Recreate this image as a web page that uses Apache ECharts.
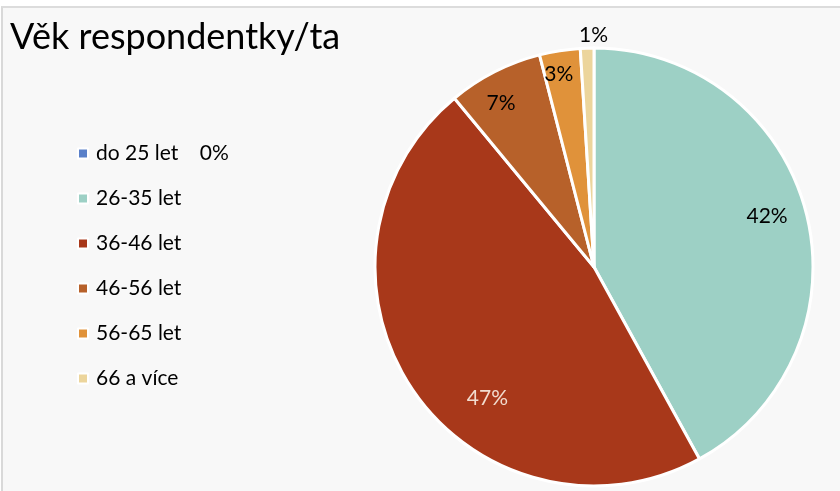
<!DOCTYPE html>
<html>
<head>
<meta charset="utf-8">
<script src="https://cdn.jsdelivr.net/npm/echarts@6/dist/echarts.min.js"></script>
<style>
  html, body { margin: 0; padding: 0; background: #ffffff; }
  #frame {
    position: absolute; left: 1px; top: 6px; width: 839px; height: 485px;
    background: #f8f8f8; border-left: 2px solid #d9d9d9; border-top: 2px solid #dcdcdc;
    box-sizing: border-box;
  }
  #main { position: absolute; left: 0; top: 0; width: 840px; height: 491px; }
</style>
</head>
<body>
<div id="frame"></div>
<div id="main"></div>
<script>
// kategorie a hodnoty (procenta)
const categories = ['do 25 let', '26-35 let', '36-46 let', '46-56 let', '56-65 let', '66 a více']
const values = [0, 42, 47, 7, 3, 1]
const colors = ['#5a80c9', '#9dd0c5', '#a8381a', '#b7612a', '#e0923a', '#ecd59c']
const labelColors = ['#000', '#000', '#f2dccf', '#000', '#000', '#000']
// doladění pozic popisků (jako v Excelu)
const labelShift = [[0, 0], [-8, -4], [48, 26], [-8, 3], [-6, -8], [26, -9]]

const total = values.reduce((a, b) => a + b, 0)
const pct = v => Math.round(v / total * 100) + '%'

const R = 219
const center = [594, 267]

const myChart = echarts.init(document.getElementById('main'))
myChart.setOption({
  animation: false,
  color: colors,
  title: {
    text: 'Věk respondentky/ta',
    left: 5,
    top: 14,
    textStyle: { fontFamily: 'Lato', fontSize: 36, fontWeight: 'normal', color: '#000' }
  },
  legend: {
    orient: 'vertical',
    left: 72,
    top: 138,
    itemWidth: 10,
    itemHeight: 10,
    itemGap: 24,
    icon: 'rect',
    data: categories,
    textStyle: { fontFamily: 'Lato', fontSize: 21, lineHeight: 21, color: '#000', padding: [0, 0, 0, 3] },
    formatter: name => {
      const i = categories.indexOf(name)
      // nulový podíl má popisek vedle legendy
      return values[i] === 0 ? name + '    ' + pct(values[i]) : name
    }
  },
  series: [
    {
      type: 'pie',
      center: center,
      radius: [0, R],
      startAngle: 90,
      clockwise: true,
      silent: true,
      itemStyle: { borderColor: '#ffffff', borderWidth: 3 },
      label: { show: false },
      labelLine: { show: false },
      data: categories.map((c, i) => ({ name: c, value: values[i] }))
    },
    {
      // jen popisky, posunuté blíž k okraji
      type: 'pie',
      center: center,
      radius: [R * 0.68, R],
      startAngle: 90,
      clockwise: true,
      silent: true,
      legendHoverLink: false,
      itemStyle: { color: 'transparent', borderWidth: 0 },
      labelLine: { show: false, length: 4, length2: 0 },
      labelLayout: params => ({ dx: labelShift[params.dataIndex][0], dy: labelShift[params.dataIndex][1] }),
      data: categories.map((c, i) => ({
        name: c,
        value: values[i],
        label: values[i] === 0 ? { show: false } : {
          show: true, position: values[i] < 2 ? 'outside' : 'inside',
          formatter: pct(values[i]), fontFamily: 'Lato', fontSize: 21, color: labelColors[i]
        }
      }))
    }
  ]
})
</script>
</body>
</html>
